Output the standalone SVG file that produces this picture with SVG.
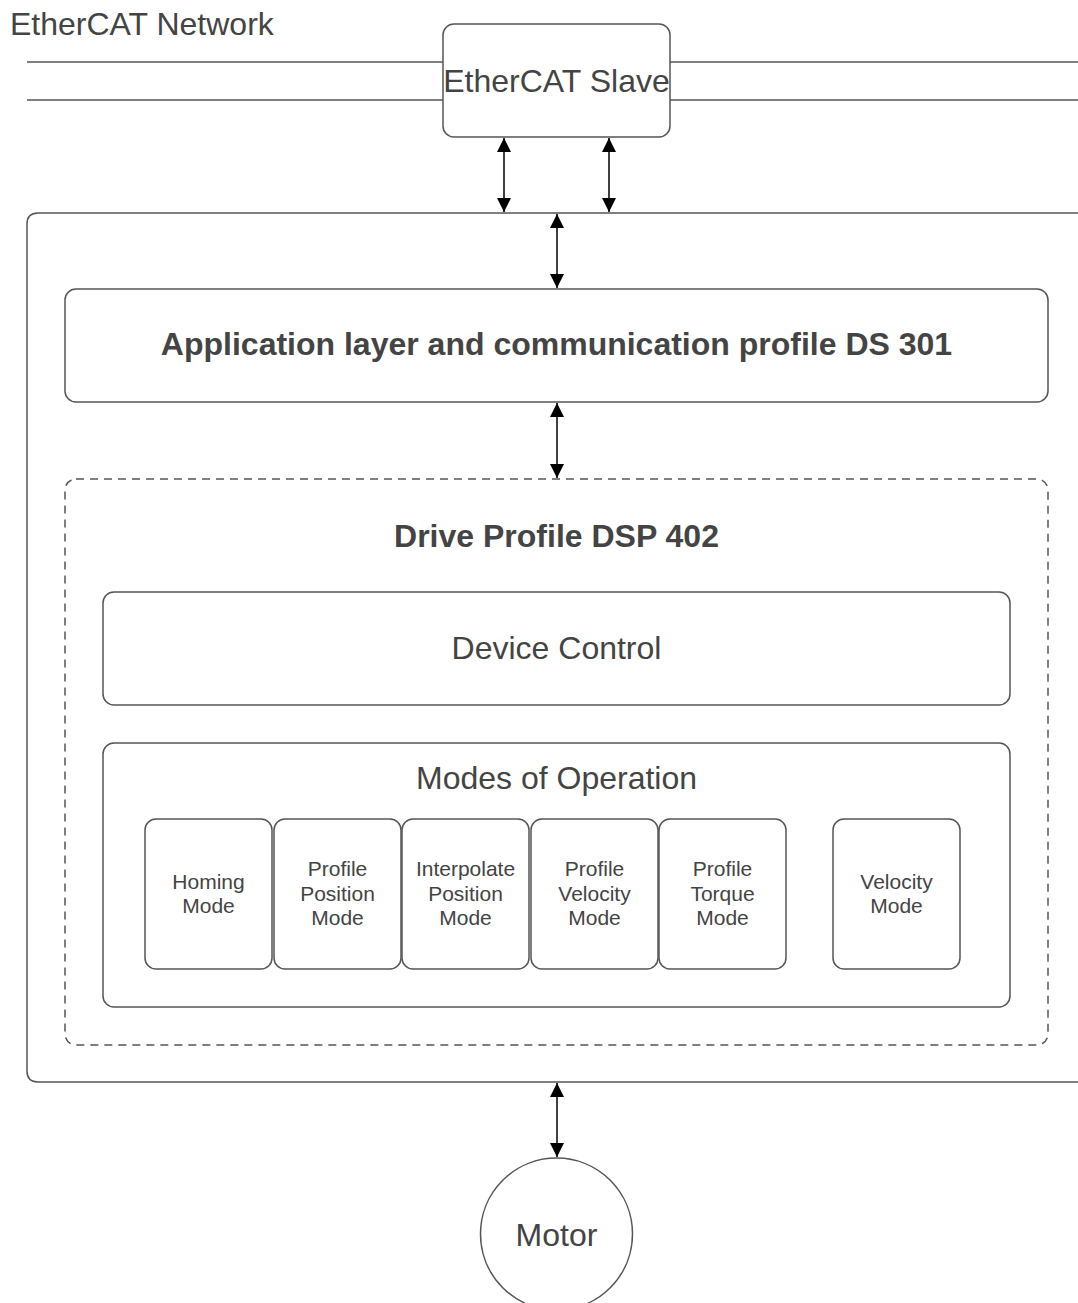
<svg xmlns="http://www.w3.org/2000/svg" width="1078" height="1303" viewBox="0 0 1078 1303">
<defs>
<marker id="ah2" viewBox="0 0 14 14" refX="14" refY="7" markerWidth="14" markerHeight="14" markerUnits="userSpaceOnUse" orient="auto-start-reverse">
<path d="M0,0 L14,7 L0,14 z" fill="#000"/>
</marker>
<style>
.box{fill:#fff;stroke:#555;stroke-width:1.5}
.dash{fill:none;stroke:#555;stroke-width:1.5;stroke-dasharray:8 6}
.line{stroke:#555;stroke-width:1.5;fill:none}
.conn{stroke:#000;stroke-width:1.5;fill:none;marker-start:url(#ah2);marker-end:url(#ah2)}
.t{font-family:"Liberation Sans",Arial,sans-serif;fill:#444;font-size:32px}
.b{font-weight:bold}
.m{font-family:"Liberation Sans",Arial,sans-serif;fill:#444;font-size:21px;text-anchor:middle}
.c{text-anchor:middle}
</style>
</defs>
<rect width="1078" height="1303" fill="#fff"/>
<g id="network">
<line class="line" x1="27" y1="62" x2="1078" y2="62"/>
<line class="line" x1="27" y1="100" x2="1078" y2="100"/>
<text class="t" x="10" y="35">EtherCAT Network</text>
</g>
<g id="slave">
<rect class="box" x="443" y="24" width="227" height="113" rx="11"/>
<text class="t c" x="556.5" y="92">EtherCAT Slave</text>
</g>
<g id="outer">
<path class="box" d="M1090,213 L38,213 Q27,213 27,224 L27,1071 Q27,1082 38,1082 L1090,1082"/>
</g>
<g id="applayer">
<rect class="box" x="65" y="289" width="983" height="113" rx="11"/>
<text class="t b c" x="556.5" y="355">Application layer and communication profile DS 301</text>
</g>
<g id="dsp402">
<rect class="dash" x="65" y="479" width="983" height="566" rx="11"/>
<text class="t b c" x="556.5" y="547">Drive Profile DSP 402</text>
</g>
<g id="devicecontrol">
<rect class="box" x="103" y="592" width="907" height="113" rx="11"/>
<text class="t c" x="556.5" y="659">Device Control</text>
</g>
<g id="modes">
<rect class="box" x="103" y="743" width="907" height="264" rx="11"/>
<text class="t c" x="556.5" y="789">Modes of Operation</text>
</g>
<g id="homing">
<rect class="box" x="145" y="819" width="127" height="150" rx="11"/>
<text class="m" x="208.5" y="889">Homing</text>
<text class="m" x="208.5" y="913">Mode</text>
</g>
<g id="profilepos">
<rect class="box" x="274" y="819" width="127" height="150" rx="11"/>
<text class="m" x="337.5" y="876">Profile</text>
<text class="m" x="337.5" y="901">Position</text>
<text class="m" x="337.5" y="925">Mode</text>
</g>
<g id="interp">
<rect class="box" x="402" y="819" width="127" height="150" rx="11"/>
<text class="m" x="465.5" y="876">Interpolate</text>
<text class="m" x="465.5" y="901">Position</text>
<text class="m" x="465.5" y="925">Mode</text>
</g>
<g id="profilevel">
<rect class="box" x="531" y="819" width="127" height="150" rx="11"/>
<text class="m" x="594.5" y="876">Profile</text>
<text class="m" x="594.5" y="901">Velocity</text>
<text class="m" x="594.5" y="925">Mode</text>
</g>
<g id="profiletorque">
<rect class="box" x="659" y="819" width="127" height="150" rx="11"/>
<text class="m" x="722.5" y="876">Profile</text>
<text class="m" x="722.5" y="901">Torque</text>
<text class="m" x="722.5" y="925">Mode</text>
</g>
<g id="velocity">
<rect class="box" x="833" y="819" width="127" height="150" rx="11"/>
<text class="m" x="896.5" y="889">Velocity</text>
<text class="m" x="896.5" y="913">Mode</text>
</g>
<g id="motor">
<circle class="box" cx="556.5" cy="1234" r="76"/>
<text class="t c" x="556.5" y="1246">Motor</text>
</g>
<g id="connectors">
<line class="conn" x1="504" y1="138" x2="504" y2="212"/>
<line class="conn" x1="609" y1="138" x2="609" y2="212"/>
<line class="conn" x1="557" y1="214" x2="557" y2="288"/>
<line class="conn" x1="557" y1="403" x2="557" y2="478"/>
<line class="conn" x1="557" y1="1083" x2="557" y2="1157"/>
</g>
</svg>
